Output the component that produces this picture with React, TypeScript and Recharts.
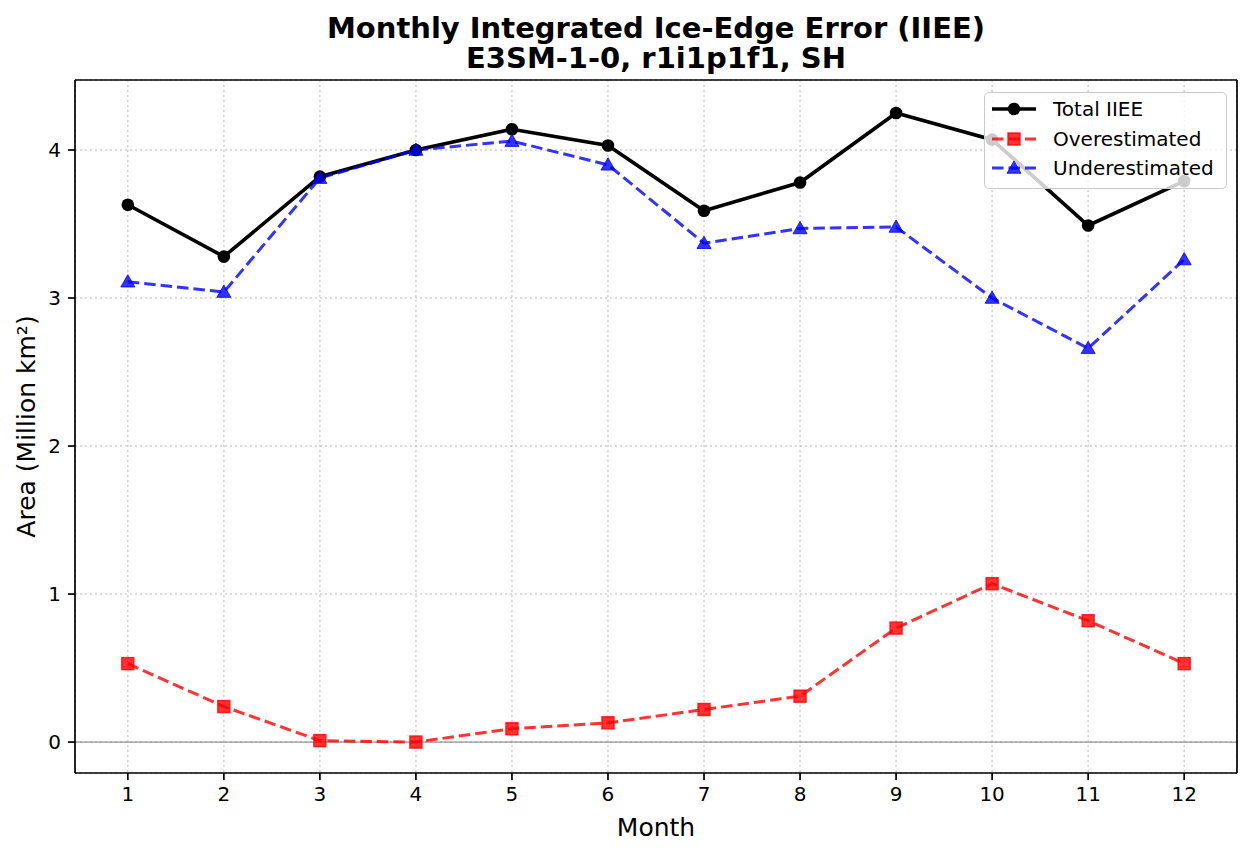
import React from 'react';
import { LineChart, Line, XAxis, YAxis, CartesianGrid, ReferenceLine, Label } from 'recharts';

const months = [1, 2, 3, 4, 5, 6, 7, 8, 9, 10, 11, 12];
const totalIIEE = [3.63, 3.28, 3.82, 4.0, 4.14, 4.03, 3.59, 3.78, 4.25, 4.07, 3.49, 3.79];
const overestimated = [0.53, 0.24, 0.01, 0.0, 0.09, 0.13, 0.22, 0.31, 0.77, 1.07, 0.82, 0.53];
const underestimated = [3.11, 3.04, 3.81, 4.0, 4.06, 3.9, 3.37, 3.47, 3.48, 3.0, 2.66, 3.26];
const yTicks = [0, 1, 2, 3, 4];

const titleLines = ['Monthly Integrated Ice-Edge Error (IIEE)', 'E3SM-1-0, r1i1p1f1, SH'];

const FONT = '"DejaVu Sans", sans-serif';
const X_DOMAIN: [number, number] = [0.45, 12.55];
const Y_DOMAIN: [number, number] = [-0.209, 4.473];

const data = months.map((m, i) => ({
  month: m,
  total: totalIIEE[i],
  over: overestimated[i],
  under: underestimated[i],
}));

type Marker = 'circle' | 'square' | 'triangle';

const series: { key: string; name: string; color: string; width: number; dash?: string; opacity: number; marker: Marker }[] = [
  { key: 'total', name: 'Total IIEE', color: '#000000', width: 3.6, opacity: 1, marker: 'circle' },
  { key: 'over', name: 'Overestimated', color: '#ff0000', width: 3, dash: '11.5 5', opacity: 0.8, marker: 'square' },
  { key: 'under', name: 'Underestimated', color: '#0000ff', width: 3, dash: '11.5 5', opacity: 0.8, marker: 'triangle' },
];

const markerShape = (kind: Marker, cx: number, cy: number, color: string, opacity: number, key?: string) => {
  if (kind === 'circle') {
    return <circle key={key} cx={cx} cy={cy} r={6.3} fill={color} fillOpacity={opacity} stroke="none" />;
  }
  if (kind === 'square') {
    return (
      <rect key={key} x={cx - 6} y={cy - 6} width={12} height={12} fill={color} fillOpacity={opacity}
        stroke={color} strokeOpacity={opacity} strokeWidth={1.5} />
    );
  }
  const s = 7;
  return (
    <polygon key={key} points={`${cx},${cy - s} ${cx - s},${cy + s * 0.75} ${cx + s},${cy + s * 0.75}`}
      fill={color} fillOpacity={opacity} stroke={color} strokeOpacity={opacity} strokeWidth={1} />
  );
};

const YLabel = (props: any) => {
  const { viewBox } = props;
  const x = 26;
  const y = viewBox.y + viewBox.height / 2;
  return (
    <text x={x} y={y} transform={`rotate(-90 ${x} ${y})`} textAnchor="middle" dominantBaseline="central"
      fontFamily={FONT} fontSize={25} fill="#000">
      Area (Million km²)
    </text>
  );
};

const XLabel = (props: any) => {
  const { viewBox } = props;
  return (
    <text x={viewBox.x + viewBox.width / 2} y={836} textAnchor="middle" fontFamily={FONT} fontSize={25} fill="#000">
      Month
    </text>
  );
};

const LegendBox = () => (
  <div
    style={{
      position: 'absolute', left: 984, top: 92, width: 243, height: 97,
      background: 'rgba(255,255,255,0.8)', border: '1.5px solid #cccccc', borderRadius: 5,
      boxSizing: 'border-box', fontFamily: FONT, fontSize: 20,
    }}
  >
    {series.map((s, i) => (
      <div key={s.key} style={{ position: 'absolute', left: 0, top: 1 + i * 29.5, height: 30, display: 'flex', alignItems: 'center' }}>
        <svg width={60} height={30} style={{ display: 'block' }}>
          <line x1={7} y1={15} x2={51} y2={15} stroke={s.color} strokeOpacity={s.opacity} strokeWidth={s.width}
            strokeDasharray={s.dash} />
          {markerShape(s.marker, 29, 15, s.color, s.opacity)}
        </svg>
        <span style={{ marginLeft: 8, whiteSpace: 'nowrap', color: '#000' }}>{s.name}</span>
      </div>
    ))}
  </div>
);

export default function App() {
  return (
    <div style={{ position: 'absolute', left: 0, top: 0, width: 1252, height: 856, background: '#fff' }}>
      {titleLines.map((t, i) => (
        <div key={t} style={{ position: 'absolute', left: 75, width: 1162, top: 13 + i * 30, height: 30, textAlign: 'center', fontFamily: FONT, fontWeight: 'bold', fontSize: 29, lineHeight: '30px', color: '#000', whiteSpace: 'nowrap' }}>
          {t}
        </div>
      ))}
      <LineChart width={1252} height={856} data={data} margin={{ top: 80, right: 15, bottom: 0, left: 0 }}>
        <CartesianGrid stroke="#b0b0b0" strokeOpacity={0.6} strokeWidth={1.5} strokeDasharray="2 3" />
        <XAxis dataKey="month" type="number" domain={X_DOMAIN} ticks={months} allowDataOverflow height={83}
          axisLine={{ stroke: '#000', strokeWidth: 1.7 }} tickLine={{ stroke: '#000', strokeWidth: 1.7 }}
          tickSize={7} tickMargin={7} tick={{ fill: '#000', fontSize: 20, fontFamily: FONT }} interval={0}>
          <Label content={XLabel} />
        </XAxis>
        <YAxis type="number" domain={Y_DOMAIN} ticks={yTicks} allowDataOverflow width={75}
          axisLine={{ stroke: '#000', strokeWidth: 1.7 }} tickLine={{ stroke: '#000', strokeWidth: 1.7 }}
          tickSize={7} tickMargin={7} tick={{ fill: '#000', fontSize: 20, fontFamily: FONT }} interval={0}>
          <Label content={YLabel} />
        </YAxis>
        <ReferenceLine y={0} stroke="#808080" strokeOpacity={0.6} strokeWidth={1.7} />
        {/* top and right spines */}
        <ReferenceLine y={Y_DOMAIN[1]} stroke="#000" strokeWidth={1.7} ifOverflow="visible" />
        <ReferenceLine x={X_DOMAIN[1]} stroke="#000" strokeWidth={1.7} ifOverflow="visible" />
        {series.map((s) => (
          <Line
            key={s.key}
            dataKey={s.key}
            name={s.name}
            type="linear"
            stroke={s.color}
            strokeOpacity={s.opacity}
            strokeWidth={s.width}
            strokeDasharray={s.dash}
            isAnimationActive={false}
            dot={(p: any) => markerShape(s.marker, p.cx, p.cy, s.color, s.opacity, `${s.key}-${p.index}`)}
            activeDot={false}
          />
        ))}
      </LineChart>
      <LegendBox />
    </div>
  );
}
